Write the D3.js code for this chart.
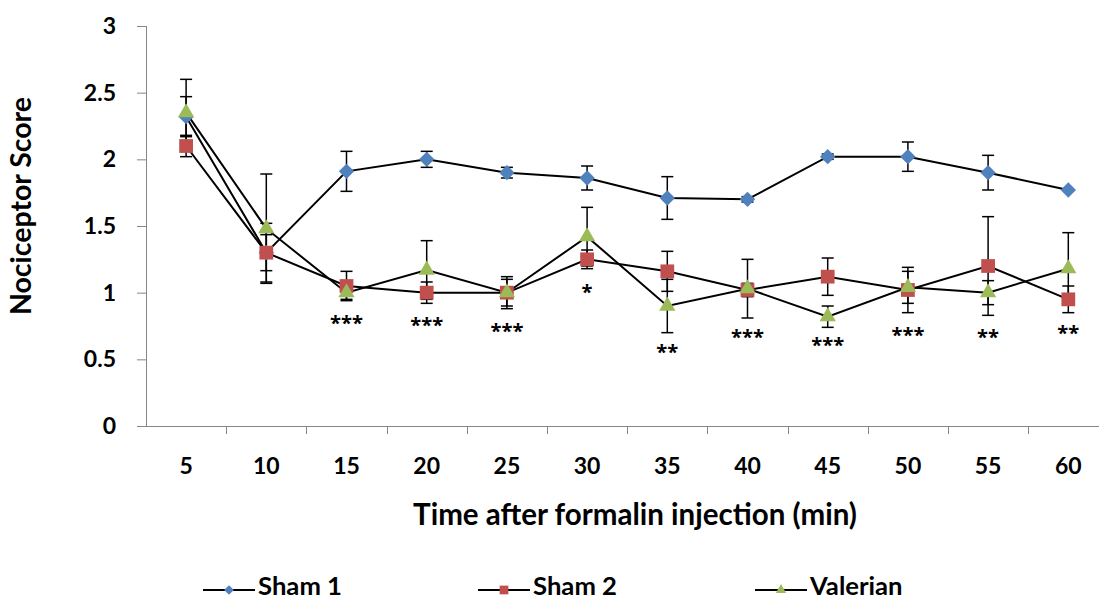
<!DOCTYPE html>
<html>
<head>
<meta charset="utf-8">
<script src="https://cdn.jsdelivr.net/npm/d3@7"></script>
<style>
  html, body { margin: 0; padding: 0; background: #fff; }
  svg { display: block; font-family: Lato, "Open Sans", sans-serif; }
</style>
</head>
<body>
<svg id="chart" width="1099" height="599"></svg>
<script>
// ---- data ----
const categories = ["5","10","15","20","25","30","35","40","45","50","55","60"];
const yTicks = [0, 0.5, 1, 1.5, 2, 2.5, 3];
const sham1    = [2.32, 1.30, 1.91, 2.00, 1.90, 1.86, 1.71, 1.70, 2.02, 2.02, 1.90, 1.77];
const sham1Err = [0.15, 0.22, 0.15, 0.06, 0.04, 0.09, 0.16, 0.02, 0.02, 0.11, 0.13, 0.00];
const sham2    = [2.10, 1.30, 1.05, 1.00, 1.00, 1.25, 1.16, 1.02, 1.12, 1.02, 1.20, 0.95];
const sham2Err = [0.08, 0.135, 0.11, 0.08, 0.12, 0.07, 0.15, 0.05, 0.14, 0.17, 0.37, 0.10];
const valerian    = [2.35, 1.48, 1.00, 1.17, 1.00, 1.42, 0.90, 1.03, 0.82, 1.04, 1.00, 1.18];
const valerianErr = [0.25, 0.41, 0.05, 0.22, 0.10, 0.22, 0.20, 0.22, 0.08, 0.12, 0.09, 0.27];
const stars      = ["", "", "***", "***", "***", "*", "**", "***", "***", "***", "**", "**"];
const starLevels = [null, null, 0.81, 0.795, 0.75, 1.04, 0.59, 0.70, 0.64, 0.72, 0.70, 0.73];
const seriesNames = ["Sham 1", "Sham 2", "Valerian"];

(function () {
// ---- build ----
const svg = d3.select("#chart");
const plotLeft = 146, plotTop = 26, plotBottom = 426, band = 80.2;
const x = d3.scaleBand().domain(categories).range([plotLeft, plotLeft + band * categories.length]).paddingInner(0).paddingOuter(0);
const y = d3.scaleLinear().domain([0, 3]).range([plotBottom, plotTop]);
const cx = c => x(c) + x.bandwidth() / 2;

const series = [
  { name: seriesNames[0], values: sham1, err: sham1Err, color: "#4F81BD", shape: d3.symbolSquare, rot: 45, size: 118 },
  { name: seriesNames[1], values: sham2, err: sham2Err, color: "#C0504D", shape: d3.symbolSquare, rot: 0, size: 190 },
  { name: seriesNames[2], values: valerian, err: valerianErr, color: "#9BBB59", shape: d3.symbolTriangle, rot: 0, size: 115 }
];

const axisColor = "#868686";
function fitSize(sel, w) {
  const cur = sel.node().getComputedTextLength();
  const fs = parseFloat(sel.attr("font-size"));
  return fs * w / cur;
}

// Y axis
const yAxis = svg.append("g").attr("transform", `translate(${plotLeft},0)`)
  .call(d3.axisLeft(y).tickValues(yTicks).tickSize(9).tickPadding(21).tickFormat(d3.format("")));
yAxis.select(".domain").attr("stroke", axisColor).attr("d", `M0.5,${plotTop}V${plotBottom}`);
yAxis.selectAll(".tick line").attr("stroke", axisColor);
yAxis.selectAll(".tick text").attr("font-size", 23).attr("font-weight", 700).attr("fill", "#000")
  .attr("font-family", "Lato, sans-serif");

// X axis
const xAxisG = svg.append("g").attr("transform", `translate(0,${plotBottom})`);
xAxisG.append("line").attr("x1", plotLeft - 9).attr("x2", 1099).attr("y1", 0.5).attr("y2", 0.5).attr("stroke", axisColor);
const bounds = categories.map(c => x(c)).concat([x(categories[categories.length - 1]) + band]);
xAxisG.selectAll("line.xt").data(bounds.slice(1)).join("line").attr("class", "xt")
  .attr("x1", d => Math.round(d) + 0.5).attr("x2", d => Math.round(d) + 0.5)
  .attr("y1", 0).attr("y2", 8).attr("stroke", axisColor);
xAxisG.selectAll("text").data(categories).join("text")
  .attr("x", d => cx(d)).attr("y", 48)
  .attr("text-anchor", "middle").attr("font-size", 23).attr("font-weight", 700).text(d => d);

// Axis titles
const xt = svg.append("text").attr("x", 635).attr("y", 525).attr("text-anchor", "middle")
  .attr("font-size", 24).attr("font-weight", 700).text("Time after formalin injection (min)");
const yt = svg.append("text").attr("transform", "translate(31,206) rotate(-90)").attr("text-anchor", "middle")
  .attr("font-size", 22).attr("font-weight", 700).text("Nociceptor Score");
xt.attr("font-size", fitSize(xt, 444).toFixed(2));
yt.attr("font-size", fitSize(yt, 218).toFixed(2));

// Error bars
const capW = 6;
series.forEach(s => {
  const g = svg.append("g").attr("stroke", "#000").attr("stroke-width", 1.5).attr("fill", "none");
  s.values.forEach((v, i) => {
    const e = s.err[i];
    if (!e) return;
    const px = cx(categories[i]);
    const y1 = y(v + e), y2 = y(v - e);
    g.append("line").attr("x1", px).attr("x2", px).attr("y1", y1).attr("y2", y2);
    g.append("line").attr("x1", px - capW).attr("x2", px + capW).attr("y1", y1).attr("y2", y1);
    g.append("line").attr("x1", px - capW).attr("x2", px + capW).attr("y1", y2).attr("y2", y2);
  });
});

// Lines + markers
const line = d3.line().x((d, i) => cx(categories[i])).y(d => y(d));
series.forEach(s => {
  svg.append("path").datum(s.values).attr("d", line).attr("fill", "none")
    .attr("stroke", "#000").attr("stroke-width", 2);
});
series.forEach(s => {
  svg.append("g").selectAll("path").data(s.values).join("path")
    .attr("transform", (d, i) => `translate(${cx(categories[i])},${y(d)}) rotate(${s.rot})`)
    .attr("d", d3.symbol().type(s.shape).size(s.size))
    .attr("fill", s.color);
});

// Significance stars
const starFont = "'Open Sans', sans-serif";
const probe = svg.append("text").attr("font-size", 24).attr("font-weight", 700).attr("font-family", starFont).text("***");
const starSize = fitSize(probe, 33);
probe.remove();
svg.append("g").selectAll("text").data(stars.map((t, i) => ({ t, i })).filter(d => d.t))
  .join("text")
  .attr("x", d => cx(categories[d.i]))
  .attr("y", d => y(starLevels[d.i]) + 0.58 * starSize)
  .attr("text-anchor", "middle").attr("font-size", starSize.toFixed(2)).attr("font-weight", 700)
  .attr("font-family", starFont)
  .text(d => d.t);

// Legend
const legendX = [203, 478, 755];
const legY = 590;
const legTexts = [];
series.forEach((s, i) => {
  const g = svg.append("g").attr("transform", `translate(${legendX[i]},${legY})`);
  g.append("line").attr("x1", 0).attr("x2", 52).attr("y1", 0).attr("y2", 0).attr("stroke", "#000").attr("stroke-width", 2);
  g.append("path").attr("transform", `translate(26,0) rotate(${s.rot})`).attr("d", d3.symbol().type(s.shape).size(s.size * 0.4)).attr("fill", s.color);
  legTexts.push(g.append("text").attr("x", 55).attr("y", 5).attr("font-size", 24).attr("font-weight", 700).text(s.name));
});
const legSize = fitSize(legTexts[0], 84);
legTexts.forEach(t => t.attr("font-size", legSize.toFixed(2)));
})();
</script>
</body>
</html>
